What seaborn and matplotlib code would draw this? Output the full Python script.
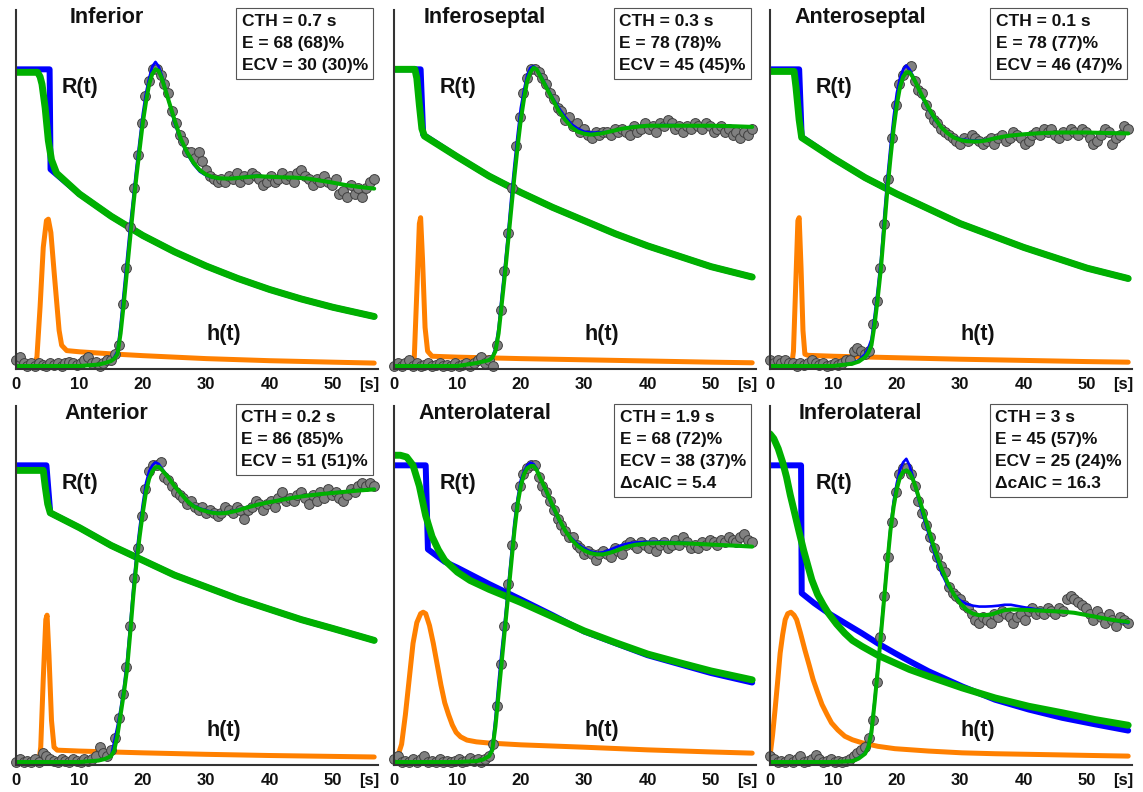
import numpy as np
import matplotlib
matplotlib.use("Agg")
import matplotlib.pyplot as plt
import seaborn as sns

sns.set_style("white")
plt.rcParams["font.family"] = ["Liberation Sans", "DejaVu Sans"]

# ---------------- text content ----------------
TITLES = ["Inferior", "Inferoseptal", "Anteroseptal", "Anterior", "Anterolateral", "Inferolateral"]
CTH = ["0.7", "0.3", "0.1", "0.2", "1.9", "3"]
E_PCT = ["68 (68)", "78 (78)", "78 (77)", "86 (85)", "68 (72)", "45 (57)"]
ECV_PCT = ["30 (30)", "45 (45)", "46 (47)", "51 (51)", "38 (37)", "25 (24)"]
DCAIC = [None, None, None, None, "5.4", "16.3"]
XTICKS = [0, 10, 20, 30, 40, 50]
DOT_STEP = 0.6  # seconds between measured samples

# ---------------- concentration fit time base ----------------
FIT_T = [0, 10, 13, 14, 15,
         15.5, 16, 16.5, 17, 17.5, 18, 18.5, 19, 19.5, 20, 20.5, 21, 21.5, 22, 22.5, 23,
         24, 25, 26, 27, 28, 29, 30, 31, 32, 33, 34, 35, 36, 37, 38,
         40, 42, 44, 46, 48, 50, 52, 54, 56.5]

# ================= Panel 1: Inferior =================
p1_dots = [0.02, 0.03, 0.01, 0.0, 0.01, 0.0, 0.01, 0.005, 0.0, 0.01, 0.005, 0.01, 0.0, 0.01, 0.015,
           0.01, 0.005, 0.01, 0.02, 0.03, 0.01, 0.015, 0.0, 0.01, 0.02,
           0.02, 0.04, 0.07, 0.21, 0.33, 0.47, 0.60, 0.71, 0.82, 0.91, 0.96, 1.00, 1.00,
           0.98, 0.95, 0.92, 0.86, 0.82, 0.78, 0.76, 0.72, 0.72, 0.70, 0.72, 0.69, 0.66, 0.64, 0.63,
           0.62, 0.63, 0.62, 0.64, 0.63, 0.65, 0.62, 0.64, 0.63, 0.65, 0.64, 0.63, 0.61, 0.62, 0.64,
           0.62, 0.63, 0.65, 0.63, 0.64, 0.62, 0.65, 0.66, 0.64, 0.63, 0.61, 0.63, 0.62, 0.64, 0.62,
           0.61, 0.63, 0.58, 0.59, 0.57, 0.61, 0.58, 0.60, 0.57, 0.60, 0.62, 0.63]
p1_fit_blue = [0.0, 0.0, 0.005, 0.01, 0.017,
               0.03, 0.05, 0.14, 0.25, 0.36, 0.47, 0.57, 0.67, 0.76, 0.85, 0.92, 0.97, 1.01, 1.025, 1.01, 0.98,
               0.90, 0.82, 0.76, 0.715, 0.68, 0.655, 0.642, 0.635, 0.633, 0.632, 0.633, 0.634, 0.637, 0.64, 0.641,
               0.638, 0.636, 0.635, 0.632, 0.625, 0.618, 0.61, 0.604, 0.598]
p1_fit_green = [0.0, 0.0, 0.005, 0.01, 0.017,
                0.025, 0.04, 0.11, 0.21, 0.32, 0.43, 0.54, 0.64, 0.73, 0.82, 0.89, 0.95, 0.985, 1.0, 0.995, 0.97,
                0.90, 0.83, 0.765, 0.72, 0.685, 0.66, 0.645, 0.637, 0.633, 0.632, 0.632, 0.634, 0.636, 0.638, 0.64,
                0.638, 0.636, 0.635, 0.632, 0.625, 0.618, 0.61, 0.604, 0.598]
p1_rb_t = [0, 5.3, 5.45, 10, 15, 20, 25, 30, 35, 40, 45, 50, 56.5]
p1_rb = [1.0, 1.0, 0.663, 0.58, 0.505, 0.44, 0.385, 0.337, 0.295, 0.258, 0.226, 0.198, 0.167]
p1_rg_t = [0, 3.4, 3.8, 4.1, 4.6, 5.1, 5.6, 6.4, 10, 15, 20, 25, 30, 35, 40, 45, 50, 56.5]
p1_rg = [0.99, 0.99, 0.975, 0.95, 0.87, 0.76, 0.695, 0.65, 0.58, 0.505, 0.44, 0.385, 0.337, 0.295, 0.258,
         0.226, 0.198, 0.167]
p1_h_t = [0, 2.8, 3.3, 3.8, 4.3, 4.8, 5.1, 5.5, 6.0, 6.4, 6.8, 7.2, 8.0, 10, 15, 20, 30, 40, 50, 56.5]
p1_h = [0, 0, 0.03, 0.2, 0.40, 0.49, 0.495, 0.45, 0.32, 0.22, 0.12, 0.07, 0.052, 0.048, 0.041, 0.035,
        0.025, 0.018, 0.013, 0.01]

# ================= Panel 2: Inferoseptal =================
p2_dots = [0.0, 0.01, 0.0, 0.01, 0.02, 0.0, 0.01, 0.0, 0.005, 0.01, 0.0, 0.005, 0.01, 0.0, 0.005,
           0.0, 0.01, 0.0, 0.005, 0.01, 0.0, 0.01, 0.02, 0.03, 0.01,
           0.02, 0.0, 0.07, 0.19, 0.32, 0.45, 0.60, 0.74, 0.84, 0.92, 0.97, 1.0, 1.0,
           0.99, 0.97, 0.95, 0.92, 0.90, 0.87, 0.86, 0.83, 0.84, 0.81, 0.82, 0.79, 0.80, 0.78, 0.77,
           0.79, 0.78, 0.79, 0.79, 0.78, 0.80, 0.79, 0.80, 0.79, 0.78, 0.81, 0.79, 0.80, 0.82, 0.80,
           0.81, 0.79, 0.82, 0.81, 0.83, 0.82, 0.80, 0.81, 0.79, 0.81, 0.80, 0.82, 0.81, 0.80, 0.82,
           0.81, 0.79, 0.80, 0.81, 0.79, 0.80, 0.78, 0.79, 0.77, 0.79, 0.78, 0.80]
p2_fit_blue = [0.0, 0.0, 0.01, 0.015, 0.02,
               0.03, 0.06, 0.13, 0.24, 0.34, 0.45, 0.57, 0.68, 0.78, 0.87, 0.93, 0.98, 1.005, 1.01, 1.0, 0.985,
               0.945, 0.905, 0.87, 0.84, 0.815, 0.80, 0.79, 0.787, 0.787, 0.788, 0.79, 0.795, 0.80, 0.805, 0.808,
               0.81, 0.812, 0.812, 0.81, 0.81, 0.81, 0.809, 0.808, 0.806]
p2_fit_green = [0.0, 0.0, 0.01, 0.015, 0.02,
                0.028, 0.05, 0.11, 0.21, 0.31, 0.42, 0.53, 0.64, 0.74, 0.83, 0.90, 0.96, 0.99, 1.005, 1.0, 0.98,
                0.94, 0.90, 0.86, 0.83, 0.805, 0.79, 0.783, 0.78, 0.782, 0.785, 0.79, 0.795, 0.80, 0.803, 0.806,
                0.81, 0.81, 0.81, 0.81, 0.81, 0.81, 0.809, 0.808, 0.806]
p2_rb_t = [0, 4.2, 4.6, 10, 15, 20, 25, 30, 35, 40, 45, 50, 56.5]
p2_rb = [1.0, 1.0, 0.78, 0.705, 0.64, 0.585, 0.535, 0.49, 0.445, 0.405, 0.37, 0.335, 0.30]
p2_rg_t = [0, 3.3, 3.6, 4.0, 4.4, 4.8, 10, 15, 20, 25, 30, 35, 40, 45, 50, 56.5]
p2_rg = [1.0, 1.0, 0.97, 0.88, 0.80, 0.775, 0.705, 0.64, 0.585, 0.535, 0.49, 0.445, 0.405, 0.37, 0.335, 0.30]
p2_h_t = [0, 2.9, 3.2, 3.6, 4.0, 4.2, 4.5, 4.9, 5.3, 6.0, 10, 20, 30, 40, 50, 56.5]
p2_h = [0, 0, 0.03, 0.25, 0.48, 0.50, 0.36, 0.13, 0.05, 0.033, 0.03, 0.025, 0.021, 0.017, 0.013, 0.011]

# ================= Panel 3: Anteroseptal =================
p3_dots = [0.02, 0.01, 0.02, 0.01, 0.02, 0.01, 0.01, 0.0, 0.01, 0.005, 0.01, 0.02, 0.01, 0.005, 0.01,
           0.0, 0.005, 0.01, 0.005, 0.01, 0.02, 0.02, 0.05, 0.06, 0.05,
           0.04, 0.05, 0.14, 0.22, 0.33, 0.48, 0.63, 0.77, 0.88, 0.95, 0.98, 1.0, 1.01,
           0.96, 0.93, 0.92, 0.88, 0.85, 0.83, 0.82, 0.80, 0.79, 0.78, 0.77, 0.76, 0.75, 0.77, 0.76,
           0.78, 0.77, 0.76, 0.75, 0.76, 0.77, 0.75, 0.77, 0.78, 0.76, 0.77, 0.79, 0.78, 0.77, 0.75,
           0.76, 0.78, 0.79, 0.78, 0.80, 0.79, 0.80, 0.78, 0.77, 0.79, 0.78, 0.80, 0.79, 0.78, 0.80,
           0.79, 0.77, 0.75, 0.76, 0.78, 0.80, 0.79, 0.75, 0.77, 0.78, 0.81, 0.80]
p3_fit_blue = [0.0, 0.0, 0.01, 0.02, 0.04,
               0.06, 0.09, 0.17, 0.26, 0.36, 0.50, 0.63, 0.74, 0.84, 0.92, 0.97, 1.0, 1.013, 1.0, 0.98, 0.955,
               0.905, 0.865, 0.83, 0.805, 0.785, 0.772, 0.765, 0.762, 0.76, 0.76, 0.762, 0.766, 0.77, 0.774, 0.777,
               0.781, 0.784, 0.786, 0.787, 0.787, 0.787, 0.786, 0.785, 0.784]
p3_fit_green = [0.0, 0.0, 0.008, 0.015, 0.03,
                0.045, 0.07, 0.14, 0.23, 0.33, 0.46, 0.59, 0.70, 0.80, 0.88, 0.94, 0.975, 0.99, 0.99, 0.975, 0.955,
                0.91, 0.87, 0.835, 0.805, 0.785, 0.77, 0.762, 0.758, 0.757, 0.757, 0.76, 0.765, 0.77, 0.774, 0.777,
                0.781, 0.784, 0.786, 0.787, 0.787, 0.787, 0.786, 0.785, 0.784]
p3_rb_t = [0, 4.6, 5.0, 10, 15, 20, 25, 30, 35, 40, 45, 50, 56.5]
p3_rb = [1.0, 1.0, 0.772, 0.70, 0.635, 0.58, 0.53, 0.48, 0.44, 0.40, 0.365, 0.33, 0.295]
p3_rg_t = [0, 3.8, 4.1, 4.6, 5.0, 10, 15, 20, 25, 30, 35, 40, 45, 50, 56.5]
p3_rg = [0.993, 0.993, 0.94, 0.83, 0.77, 0.70, 0.635, 0.58, 0.53, 0.48, 0.44, 0.40, 0.365, 0.33, 0.295]
p3_h_t = [0, 3.4, 3.7, 4.1, 4.4, 4.6, 4.9, 5.2, 5.5, 6.0, 10, 20, 30, 40, 50, 56.5]
p3_h = [0, 0, 0.05, 0.30, 0.49, 0.50, 0.33, 0.12, 0.04, 0.036, 0.033, 0.028, 0.023, 0.019, 0.015, 0.013]

# ================= Panel 4: Anterior =================
p4_dots = [0.0, 0.01, 0.0, 0.005, 0.0, 0.01, 0.0, 0.03, 0.02, 0.01, 0.005, 0.0, 0.01, 0.005, 0.0,
           0.01, 0.005, 0.0, 0.01, 0.005, 0.01, 0.02, 0.05, 0.03, 0.02,
           0.04, 0.08, 0.15, 0.23, 0.32, 0.46, 0.62, 0.72, 0.83, 0.92, 0.98, 1.0, 1.0,
           1.01, 0.96, 0.95, 0.93, 0.91, 0.90, 0.89, 0.87, 0.88, 0.86, 0.85, 0.86, 0.84, 0.85, 0.84,
           0.83, 0.84, 0.86, 0.85, 0.84, 0.86, 0.85, 0.82, 0.85, 0.86, 0.88, 0.87, 0.85, 0.87, 0.88,
           0.86, 0.89, 0.91, 0.88, 0.89, 0.88, 0.90, 0.91, 0.89, 0.87, 0.90, 0.88, 0.91, 0.89, 0.92,
           0.90, 0.91, 0.89, 0.88, 0.90, 0.92, 0.91, 0.93, 0.94, 0.93, 0.94, 0.93]
p4_fit_blue = [0.0, 0.0, 0.005, 0.01, 0.02,
               0.07, 0.12, 0.18, 0.25, 0.34, 0.46, 0.59, 0.70, 0.79, 0.87, 0.94, 0.98, 1.0, 1.01, 1.005, 0.99,
               0.96, 0.93, 0.905, 0.88, 0.865, 0.855, 0.848, 0.843, 0.84, 0.841, 0.845, 0.85, 0.856, 0.862, 0.868,
               0.877, 0.885, 0.893, 0.899, 0.904, 0.908, 0.912, 0.916, 0.92]
p4_fit_green = [0.0, 0.0, 0.005, 0.01, 0.02,
                0.04, 0.09, 0.16, 0.23, 0.31, 0.43, 0.56, 0.67, 0.76, 0.84, 0.91, 0.955, 0.98, 0.993, 0.995, 0.985,
                0.96, 0.93, 0.905, 0.88, 0.862, 0.852, 0.845, 0.84, 0.838, 0.839, 0.843, 0.848, 0.855, 0.861, 0.867,
                0.876, 0.884, 0.892, 0.898, 0.903, 0.907, 0.911, 0.915, 0.919]
p4_rb_t = [0, 4.8, 5.4, 10, 15, 20, 25, 30, 35, 40, 45, 50, 56.5]
p4_rb = [1.0, 1.0, 0.84, 0.79, 0.73, 0.68, 0.63, 0.59, 0.55, 0.515, 0.48, 0.45, 0.41]
p4_rg_t = [0, 4.3, 4.6, 5.0, 5.4, 10, 15, 20, 25, 30, 35, 40, 45, 50, 56.5]
p4_rg = [0.983, 0.983, 0.93, 0.87, 0.84, 0.79, 0.73, 0.68, 0.63, 0.59, 0.55, 0.515, 0.48, 0.45, 0.41]
p4_h_t = [0, 3.6, 3.9, 4.3, 4.7, 4.9, 5.2, 5.6, 6.0, 6.5, 10, 20, 30, 40, 50, 56.5]
p4_h = [0, 0, 0.05, 0.28, 0.48, 0.495, 0.36, 0.14, 0.05, 0.04, 0.037, 0.031, 0.026, 0.022, 0.019, 0.017]

# ================= Panel 5: Anterolateral =================
p5_dots = [0.01, 0.02, 0.0, 0.005, 0.0, 0.01, 0.0, 0.01, 0.02, 0.0, 0.005, 0.0, 0.01, 0.0, 0.005,
           0.0, 0.005, 0.01, 0.0, 0.005, 0.015, 0.005, 0.01, 0.0, 0.01,
           0.02, 0.06, 0.19, 0.33, 0.46, 0.60, 0.73, 0.86, 0.93, 0.97, 0.99, 1.0, 1.0,
           0.96, 0.93, 0.91, 0.88, 0.85, 0.82, 0.80, 0.78, 0.76, 0.76, 0.73, 0.72, 0.70, 0.71, 0.70,
           0.68, 0.70, 0.71, 0.70, 0.69, 0.72, 0.71, 0.70, 0.73, 0.74, 0.73, 0.72, 0.74, 0.73, 0.72,
           0.74, 0.71, 0.73, 0.74, 0.72, 0.73, 0.75, 0.73, 0.76, 0.74, 0.72, 0.73, 0.72, 0.74, 0.73,
           0.75, 0.74, 0.73, 0.75, 0.74, 0.76, 0.75, 0.74, 0.76, 0.77, 0.75, 0.74]
p5_fit_blue = [0.0, 0.0, 0.003, 0.008, 0.022,
               0.05, 0.15, 0.27, 0.38, 0.48, 0.59, 0.70, 0.81, 0.89, 0.95, 0.98, 1.0, 1.009, 1.005, 0.99, 0.96,
               0.91, 0.86, 0.815, 0.78, 0.755, 0.735, 0.72, 0.71, 0.705, 0.707, 0.715, 0.724, 0.732, 0.737, 0.74,
               0.742, 0.742, 0.741, 0.739, 0.736, 0.733, 0.731, 0.729, 0.726]
p5_fit_green = [0.0, 0.0, 0.003, 0.008, 0.02,
                0.04, 0.12, 0.23, 0.34, 0.45, 0.56, 0.67, 0.78, 0.87, 0.93, 0.97, 0.99, 0.997, 0.998, 0.985, 0.96,
                0.915, 0.865, 0.82, 0.78, 0.75, 0.728, 0.713, 0.704, 0.70, 0.70, 0.705, 0.712, 0.72, 0.727, 0.732,
                0.737, 0.738, 0.738, 0.737, 0.735, 0.733, 0.731, 0.729, 0.726]
p5_rb_t = [0, 5.0, 5.35, 8, 10, 15, 20, 25, 30, 35, 40, 45, 50, 56.5]
p5_rb = [1.0, 1.0, 0.717, 0.675, 0.655, 0.6, 0.548, 0.495, 0.44, 0.40, 0.36, 0.33, 0.30, 0.268]
p5_rg_t = [0, 1, 2, 3, 4, 5, 6, 7, 8, 10, 12, 15, 20, 25, 30, 35, 40, 45, 50, 56.5]
p5_rg = [1.034, 1.034, 1.028, 1.0, 0.93, 0.83, 0.76, 0.715, 0.68, 0.64, 0.612, 0.582, 0.538, 0.49, 0.442,
         0.402, 0.364, 0.335, 0.307, 0.277]
p5_h_t = [0, 0.6, 1.2, 1.8, 2.4, 3.0, 3.6, 4.2, 4.6, 5.0, 5.6, 6.2, 6.8, 7.4, 8.0, 8.6, 9.2, 9.8, 10.5,
          11.5, 13, 15, 20, 30, 40, 50, 56.5]
p5_h = [0, 0.02, 0.06, 0.16, 0.28, 0.40, 0.47, 0.50, 0.505, 0.50, 0.46, 0.40, 0.33, 0.26, 0.20, 0.16,
        0.125, 0.10, 0.085, 0.074, 0.068, 0.064, 0.058, 0.05, 0.041, 0.034, 0.03]

# ================= Panel 6: Inferolateral =================
p6_dots = [0.02, 0.01, 0.0, 0.005, 0.0, 0.01, 0.0, 0.01, 0.02, 0.0, 0.005, 0.01, 0.025, 0.01, 0.0,
           0.005, 0.01, 0.0, 0.005, 0.0, 0.005, 0.01, 0.02, 0.03, 0.04,
           0.05, 0.08, 0.14, 0.27, 0.42, 0.56, 0.69, 0.81, 0.91, 0.97, 0.99, 0.99, 0.97,
           0.93, 0.88, 0.84, 0.80, 0.76, 0.72, 0.69, 0.66, 0.64, 0.59, 0.57, 0.56, 0.55, 0.53, 0.52,
           0.50, 0.48, 0.47, 0.49, 0.48, 0.47, 0.50, 0.49, 0.51, 0.50, 0.49, 0.47, 0.49, 0.50, 0.48,
           0.51, 0.52, 0.50, 0.51, 0.50, 0.52, 0.51, 0.50, 0.52, 0.51, 0.55, 0.56, 0.55, 0.54, 0.53,
           0.52, 0.50, 0.48, 0.51, 0.49, 0.47, 0.50, 0.48, 0.46, 0.49, 0.48, 0.47]
p6_fit_blue = [0.0, 0.0, 0.003, 0.015, 0.031,
               0.054, 0.11, 0.21, 0.32, 0.445, 0.56, 0.68, 0.79, 0.88, 0.94, 0.985, 1.01, 1.022, 1.0, 0.965, 0.92,
               0.84, 0.77, 0.70, 0.64, 0.595, 0.565, 0.545, 0.533, 0.527, 0.524, 0.524, 0.525, 0.527, 0.53, 0.53,
               0.522, 0.515, 0.51, 0.507, 0.503, 0.495, 0.487, 0.478, 0.468]
p6_fit_green = [0.0, 0.0, 0.003, 0.012, 0.028,
                0.05, 0.10, 0.20, 0.31, 0.43, 0.55, 0.67, 0.78, 0.86, 0.92, 0.96, 0.978, 0.983, 0.975, 0.955, 0.925,
                0.855, 0.785, 0.715, 0.655, 0.605, 0.565, 0.535, 0.513, 0.50, 0.495, 0.495, 0.498, 0.505, 0.512,
                0.514, 0.513, 0.511, 0.509, 0.507, 0.503, 0.495, 0.487, 0.479, 0.472]
p6_rb_t = [0, 4.9, 5.0, 7, 9.2, 12, 14.5, 17, 19.7, 22, 25, 30.3, 35.5, 40.8, 46.1, 51.3, 56.5]
p6_rb = [1.0, 1.0, 0.569, 0.535, 0.502, 0.466, 0.434, 0.40, 0.367, 0.34, 0.306, 0.255, 0.21, 0.177,
         0.149, 0.127, 0.106]
p6_rg_t = [0, 0.6, 1.3, 2.0, 2.6, 3.2, 3.9, 4.6, 5.3, 6.0, 6.6, 7.5, 8.4, 9.2, 10.5, 11.8, 13, 14.5, 17,
           19.7, 22, 25, 30.3, 35.5, 40.8, 46.1, 51.3, 56.5]
p6_rg = [1.106, 1.09, 1.056, 1.01, 0.961, 0.90, 0.838, 0.775, 0.714, 0.66, 0.614, 0.565, 0.53, 0.502,
         0.465, 0.434, 0.41, 0.39, 0.36, 0.334, 0.312, 0.289, 0.25, 0.216, 0.188, 0.166, 0.143, 0.124]
p6_h_t = [0, 0.4, 0.8, 1.2, 1.6, 2.0, 2.4, 2.8, 3.3, 3.8, 4.2, 4.8, 5.5, 6.2, 6.8, 7.5, 8.2, 9.0, 9.7,
          10.7, 11.8, 13, 14.5, 17, 19.7, 25, 30.3, 35.5, 40.8, 46, 51, 56.5]
p6_h = [0.02, 0.09, 0.177, 0.27, 0.367, 0.43, 0.48, 0.50, 0.505, 0.495, 0.48, 0.435, 0.378, 0.325, 0.278,
        0.235, 0.194, 0.16, 0.132, 0.108, 0.087, 0.075, 0.065, 0.053, 0.045, 0.037, 0.031, 0.028, 0.026,
        0.024, 0.022, 0.02]

# ---------------- styling ----------------
BLUE = "#0000FF"
GREEN = "#00B000"
ORANGE = "#FF8000"
DOT_FACE = "#808080"
DOT_EDGE = "#404040"
AXIS_COL = "#333333"
TXT = "#111111"

W, H = 1143, 792
fig = plt.figure(figsize=(W / 100, H / 100), dpi=100)

LEFTS = [16, 394, 770]
BOTTOMS = [369, 765]  # pixel row of x-axis line (from top)
AX_W, AX_H = 362, 359

panels = [
    (p1_dots, p1_fit_blue, p1_fit_green, p1_rb_t, p1_rb, p1_rg_t, p1_rg, p1_h_t, p1_h),
    (p2_dots, p2_fit_blue, p2_fit_green, p2_rb_t, p2_rb, p2_rg_t, p2_rg, p2_h_t, p2_h),
    (p3_dots, p3_fit_blue, p3_fit_green, p3_rb_t, p3_rb, p3_rg_t, p3_rg, p3_h_t, p3_h),
    (p4_dots, p4_fit_blue, p4_fit_green, p4_rb_t, p4_rb, p4_rg_t, p4_rg, p4_h_t, p4_h),
    (p5_dots, p5_fit_blue, p5_fit_green, p5_rb_t, p5_rb, p5_rg_t, p5_rg, p5_h_t, p5_h),
    (p6_dots, p6_fit_blue, p6_fit_green, p6_rb_t, p6_rb, p6_rg_t, p6_rg, p6_h_t, p6_h),
]

for i, (dots, fb, fg, rb_t, rb, rg_t, rg, h_t, h) in enumerate(panels):
    row, col = divmod(i, 3)
    ax = fig.add_axes([LEFTS[col] / W, (H - BOTTOMS[row]) / H, AX_W / W, AX_H / H])
    ax.set_facecolor("white")

    sns.lineplot(x=rb_t, y=rb, ax=ax, color=BLUE, linewidth=4.3, estimator=None, sort=False, zorder=2)
    sns.lineplot(x=rg_t, y=rg, ax=ax, color=GREEN, linewidth=5.0, estimator=None, sort=False, zorder=3)
    sns.lineplot(x=h_t, y=h, ax=ax, color=ORANGE, linewidth=3.6, estimator=None, sort=False, zorder=4)
    t_dots = DOT_STEP * np.arange(len(dots))
    sns.scatterplot(x=t_dots, y=dots, ax=ax, s=50, color=DOT_FACE, edgecolor=DOT_EDGE,
                    linewidth=0.7, zorder=5, clip_on=False)
    sns.lineplot(x=FIT_T, y=fb, ax=ax, color=BLUE, linewidth=1.9, estimator=None, sort=False, zorder=6)
    sns.lineplot(x=FIT_T, y=fg, ax=ax, color=GREEN, linewidth=2.9, estimator=None, sort=False, zorder=7)

    ax.set_xlim(0, 57.1)
    ax.set_ylim(-0.01, 1.2)
    ax.set_xlabel("")
    ax.set_ylabel("")
    ax.set_yticks([])
    ax.set_xticks(XTICKS)
    ax.set_xticklabels([str(v) for v in XTICKS], fontsize=12, fontweight="bold", color=TXT)
    ax.tick_params(axis="x", direction="in", length=4, width=1.3, color=AXIS_COL, pad=6)
    for s in ["top", "right"]:
        ax.spines[s].set_visible(False)
    for s in ["left", "bottom"]:
        ax.spines[s].set_color(AXIS_COL)
        ax.spines[s].set_linewidth(1.5)
        ax.spines[s].set_zorder(8)

    ax.text(0.25, 0.978, TITLES[i], transform=ax.transAxes, ha="center", va="center",
            fontsize=15.5, fontweight="bold", color=TXT)
    ax.text(7.2, 0.94, "R(t)", ha="left", va="center", fontsize=15.5, fontweight="bold", color=TXT)
    ax.text(30.1, 0.105, "h(t)", ha="left", va="center", fontsize=15.5, fontweight="bold", color=TXT)
    ax.text(0.975, -0.042, "[s]", transform=ax.transAxes, ha="center", va="center",
            fontsize=12, fontweight="bold", color=TXT)

    lines = [f"CTH = {CTH[i]} s", f"E = {E_PCT[i]}%", f"ECV = {ECV_PCT[i]}%"]
    if DCAIC[i] is not None:
        lines.append(f"\u0394cAIC = {DCAIC[i]}")
    ax.text(0.972, 0.99, "\n".join(lines), transform=ax.transAxes, ha="right", va="top",
            multialignment="left", fontsize=12.5, fontweight="bold", color=TXT, linespacing=1.6,
            bbox=dict(boxstyle="square,pad=0.32", fc="white", ec="#555555", lw=0.8), zorder=10)

fig.savefig("out.png", dpi=100)
